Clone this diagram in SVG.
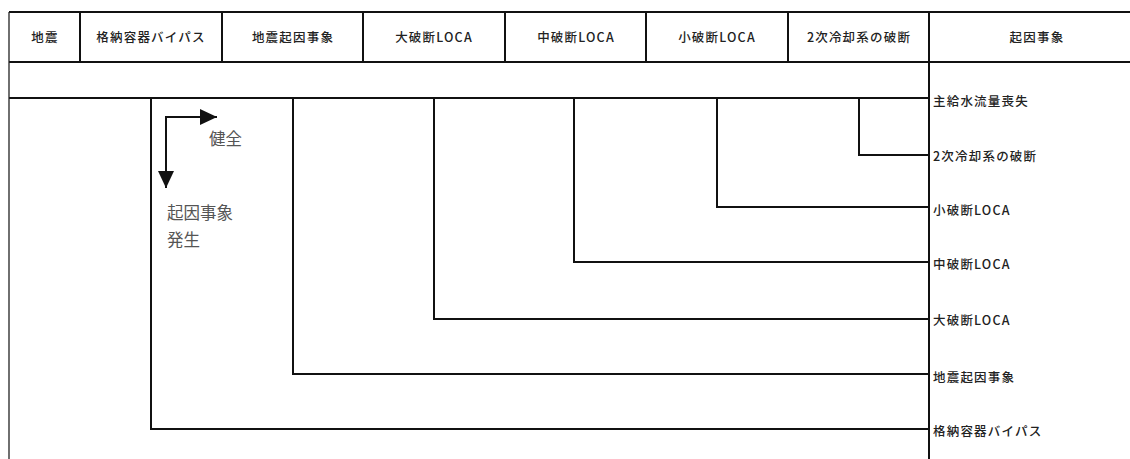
<svg xmlns="http://www.w3.org/2000/svg" width="1130" height="459" viewBox="0 0 1130 459">
<defs>
<style>
.ln{fill:none;stroke:#111;stroke-width:2}
.thin{fill:none;stroke:#222;stroke-width:1.3}
.t{font-family:"Noto Sans CJK JP","Liberation Sans",sans-serif;font-size:12.5px;fill:#222;letter-spacing:1.2px;font-weight:500}
.hc{text-anchor:middle}
.s{font-family:"Noto Sans CJK JP","Liberation Sans",sans-serif;font-size:16.5px;fill:#555}
</style>
<marker id="ah" markerUnits="userSpaceOnUse" markerWidth="18" markerHeight="16" refX="17" refY="8" orient="auto">
<path d="M0,0 L17,8 L0,16 Z" fill="#111"/>
</marker>
</defs>
<rect width="1130" height="459" fill="#fff"/>
<g id="connectors">
<path class="ln" d="M9,12 H1130 M9,62 H1130 M9,98 H929"/>
<path class="thin" d="M9,12 V459"/>
<path class="ln" d="M80,12 V62 M222,12 V62 M363,12 V62 M505,12 V62 M646,12 V62 M788,12 V62 M929,12 V459"/>
<path class="ln" d="M151,98 V429 H929"/>
<path class="ln" d="M293,98 V374 H929"/>
<path class="ln" d="M434,98 V319 H929"/>
<path class="ln" d="M574,98 V262 H929"/>
<path class="ln" d="M717,98 V207 H929"/>
<path class="ln" d="M859,98 V155 H929"/>
<path class="ln" d="M166,117 H217" marker-end="url(#ah)"/>
<path class="ln" d="M166,116 V188" marker-end="url(#ah)"/>
</g>
<g id="h-jishin"><text class="t hc" x="45" y="42">地震</text></g>
<g id="h-bypass"><text class="t hc" x="151" y="42">格納容器バイパス</text></g>
<g id="h-jishinkiin"><text class="t hc" x="293" y="42">地震起因事象</text></g>
<g id="h-large"><text class="t hc" x="434" y="42">大破断LOCA</text></g>
<g id="h-medium"><text class="t hc" x="576" y="42">中破断LOCA</text></g>
<g id="h-small"><text class="t hc" x="717" y="42">小破断LOCA</text></g>
<g id="h-secondary"><text class="t hc" x="859" y="42">2次冷却系の破断</text></g>
<g id="h-kiin"><text class="t hc" x="1037" y="42">起因事象</text></g>
<g id="r-feedwater"><text class="t" x="933" y="106">主給水流量喪失</text></g>
<g id="r-secondary"><text class="t" x="933" y="161">2次冷却系の破断</text></g>
<g id="r-small"><text class="t" x="933" y="215">小破断LOCA</text></g>
<g id="r-medium"><text class="t" x="933" y="269">中破断LOCA</text></g>
<g id="r-large"><text class="t" x="933" y="325">大破断LOCA</text></g>
<g id="r-jishin"><text class="t" x="933" y="382">地震起因事象</text></g>
<g id="r-bypass"><text class="t" x="933" y="436">格納容器バイパス</text></g>
<g id="legend">
<text class="s" x="209" y="145">健全</text>
<text class="s" x="167" y="219">起因事象</text>
<text class="s" x="167" y="246">発生</text>
</g>
</svg>
